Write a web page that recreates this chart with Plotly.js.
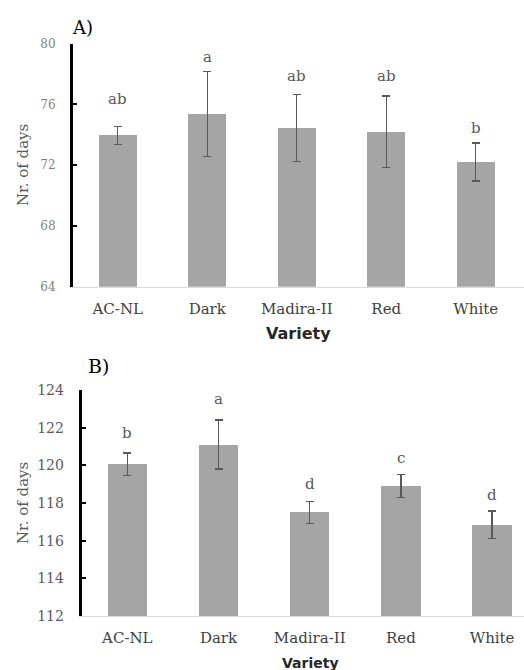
<!DOCTYPE html>
<html>
<head>
<meta charset="utf-8">
<script src="https://cdn.plot.ly/plotly-3.0.1.min.js"></script>
<style>html,body{margin:0;padding:0;background:#fff;}#chart{width:524px;height:670px;}</style>
</head>
<body>
<div id="chart"></div>
<script>
const categories = ['AC-NL', 'Dark', 'Madira-II', 'Red', 'White'];
const daysA = [73.95, 75.35, 74.45, 74.2, 72.2];
const errA = [0.6, 2.8, 2.2, 2.35, 1.25];
const lettersA = ['ab', 'a', 'ab', 'ab', 'b'];
const letterYA = [75.85, 78.6, 77.35, 77.35, 73.9];
const daysB = [120.05, 121.1, 117.5, 118.9, 116.85];
const errB = [0.6, 1.3, 0.57, 0.6, 0.73];
const lettersB = ['b', 'a', 'd', 'c', 'd'];
const letterYB = [121.3, 123.1, 118.6, 119.95, 118.0];
const ticksA = [64, 68, 72, 76, 80];
const ticksB = [112, 114, 116, 118, 120, 122, 124];

const W = 524, H = 670;
const px = v => v / W;
const py = v => 1 - v / H;

const serif = 'DejaVu Serif, serif';
const barColor = '#a5a5a5';
const errStyle = {type: 'data', visible: true, color: '#595959', thickness: 1.3, width: 4};

const traces = [
  {type: 'bar', x: categories, y: daysA, xaxis: 'x', yaxis: 'y', width: 0.425,
   marker: {color: barColor}, error_y: Object.assign({array: errA}, errStyle),
   hoverinfo: 'none'},
  {type: 'bar', x: categories, y: daysB, xaxis: 'x2', yaxis: 'y2', width: 0.43,
   marker: {color: barColor}, error_y: Object.assign({array: errB}, errStyle),
   hoverinfo: 'none'}
];

const annotations = [];
lettersA.forEach((t, i) => annotations.push({
  xref: 'x', yref: 'y', x: categories[i], y: letterYA[i], text: t, showarrow: false,
  xanchor: 'center', yanchor: 'bottom', yshift: -3, font: {family: serif, size: 15, color: '#595959'}
}));
lettersB.forEach((t, i) => annotations.push({
  xref: 'x2', yref: 'y2', x: categories[i], y: letterYB[i], text: t, showarrow: false,
  xanchor: 'center', yanchor: 'bottom', yshift: -3, font: {family: serif, size: 15, color: '#595959'}
}));
const paperNote = (x, y, text, font, extra) => Object.assign({
  xref: 'paper', yref: 'paper', x: px(x), y: py(y), text: text, showarrow: false,
  xanchor: 'center', yanchor: 'middle', font: font
}, extra || {});
annotations.push(
  paperNote(82, 28, 'A)', {family: serif, size: 18, color: '#000'}),
  paperNote(98, 366, 'B)', {family: serif, size: 19, color: '#000'}),
  paperNote(23, 165, 'Nr. of days', {family: serif, size: 15, color: '#595959'}, {textangle: -90}),
  paperNote(23, 503, 'Nr. of days', {family: serif, size: 15, color: '#595959'}, {textangle: -90}),
  paperNote(298.5, 334, '<b>Variety</b>', {family: 'DejaVu Sans, sans-serif', size: 16, color: '#262626'}),
  paperNote(310, 663, '<b>Variety</b>', {family: 'DejaVu Sans, sans-serif', size: 14, color: '#262626'})
);

const xCommon = {
  type: 'category', showgrid: false, zeroline: false, showline: true, linecolor: '#d9d9d9', linewidth: 1,
  ticks: '', ticklabelstandoff: 8, tickfont: {family: serif, size: 15, color: '#404040'}, fixedrange: true
};
const yCommon = {
  showgrid: false, zeroline: false, showline: true, linecolor: '#000', linewidth: 3,
  ticks: 'inside', ticklen: 4, tickwidth: 2, tickcolor: '#000', ticklabelstandoff: 12, fixedrange: true
};

const layout = {
  width: W, height: H,
  margin: {l: 0, r: 0, t: 0, b: 0},
  paper_bgcolor: '#fff', plot_bgcolor: '#fff',
  showlegend: false,
  bargap: 0,
  xaxis: Object.assign({}, xCommon, {domain: [px(73), 1], range: [-0.5, -0.5 + (W - 73) / 89.5], anchor: 'y'}),
  yaxis: Object.assign({}, yCommon, {domain: [py(286.7), py(43.5)], range: [64, 80], tickvals: ticksA,
    tickfont: {family: serif, size: 12, color: '#7f7f7f'}, anchor: 'x'}),
  xaxis2: Object.assign({}, xCommon, {domain: [px(81.7), 1], range: [-0.5, -0.5 + (W - 81.7) / 91.2], anchor: 'y2'}),
  yaxis2: Object.assign({}, yCommon, {domain: [py(616), py(390)], range: [112, 124], tickvals: ticksB,
    tickfont: {family: serif, size: 14, color: '#595959'}, anchor: 'x2'}),
  annotations: annotations
};

Plotly.newPlot('chart', traces, layout, {displayModeBar: false, staticPlot: true});
</script>
</body>
</html>
